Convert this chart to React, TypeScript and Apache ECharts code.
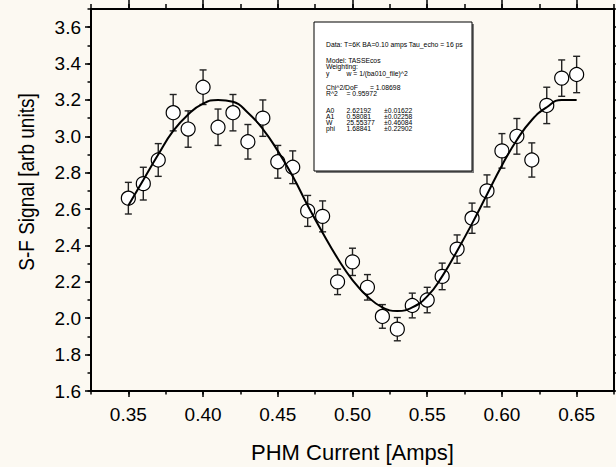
import React, { useEffect, useRef } from 'react';
import * as echarts from 'echarts';

// ---- data ----
const currents = [0.35, 0.36, 0.37, 0.38, 0.39, 0.40, 0.41, 0.42, 0.43, 0.44, 0.45, 0.46, 0.47, 0.48, 0.49, 0.50,
  0.51, 0.52, 0.53, 0.54, 0.55, 0.56, 0.57, 0.58, 0.59, 0.60, 0.61, 0.62, 0.63, 0.64, 0.65];
const signal = [2.66, 2.74, 2.87, 3.13, 3.04, 3.27, 3.05, 3.13, 2.97, 3.10, 2.86, 2.83, 2.59, 2.56, 2.20, 2.31,
  2.17, 2.01, 1.94, 2.07, 2.10, 2.23, 2.38, 2.55, 2.70, 2.92, 3.00, 2.87, 3.17, 3.32, 3.34];
const signalErr = [0.087, 0.09, 0.09, 0.10, 0.10, 0.095, 0.10, 0.10, 0.095, 0.10, 0.09, 0.09, 0.085, 0.085, 0.07, 0.075,
  0.07, 0.065, 0.064, 0.068, 0.07, 0.073, 0.078, 0.083, 0.088, 0.095, 0.098, 0.094, 0.10, 0.10, 0.10];
const fitCurrents = currents;
const fitSignal = [2.62, 2.76, 2.90, 3.03, 3.12, 3.18, 3.20, 3.19, 3.13, 3.04, 2.92, 2.78, 2.62, 2.47, 2.33, 2.21,
  2.12, 2.06, 2.04, 2.06, 2.12, 2.23, 2.37, 2.52, 2.68, 2.84, 2.98, 3.09, 3.16, 3.20, 3.20];

const xMajorTicks = [0.35, 0.40, 0.45, 0.50, 0.55, 0.60, 0.65];
const xMinorTicks = [0.325, 0.35, 0.375, 0.40, 0.425, 0.45, 0.475, 0.50, 0.525, 0.55, 0.575, 0.60, 0.625, 0.65, 0.675];
const yMajorTicks = [1.6, 1.8, 2.0, 2.2, 2.4, 2.6, 2.8, 3.0, 3.2, 3.4, 3.6];
const yMinorTicks = [1.6, 1.7, 1.8, 1.9, 2.0, 2.1, 2.2, 2.3, 2.4, 2.5, 2.6, 2.7, 2.8, 2.9, 3.0, 3.1, 3.2, 3.3, 3.4, 3.5, 3.6, 3.7];

const xTitle = 'PHM Current [Amps]';
const yTitle = 'S-F Signal [arb units]';

const boxHeader = 'Data: T=6K BA=0.10 amps Tau_echo = 16 ps';
const boxModel = 'Model: TASSEcos';
const boxWeighting = 'Weighting:';
const boxWeightVar = 'y';
const boxWeightExpr = 'w = 1/(ba010_file)^2';
const boxChiLabel = 'Chi^2/DoF';
const boxChiValue = '= 1.08698';
const boxR2Label = 'R^2';
const boxR2Value = '= 0.95972';
const paramNames = ['A0', 'A1', 'W', 'phi'];
const paramValues = ['2.62192', '0.58081', '25.55377', '1.68841'];
const paramErrors = ['\u00b10.01622', '\u00b10.02258', '\u00b10.46084', '\u00b10.22902'];

const FONT = "'Liberation Sans', Arial, Helvetica, sans-serif";
const BG = '#fcf9f2';

export default function App() {
  const ref = useRef<HTMLDivElement>(null);

  useEffect(() => {
    document.body.style.margin = '0';
    document.body.style.background = BG;
    if (!ref.current) return;
    const chart = echarts.init(ref.current, undefined, { renderer: 'svg' });

    const xMin = 0.325, xMax = 0.675, yMin = 1.6, yMax = 3.7;
    const tickStyle = { color: '#000', width: 1.5 };
    const lineStyle = { color: '#000', width: 2 };

    const baseX = (extra: any) => ({
      type: 'value', min: xMin, max: xMax, gridIndex: 0,
      splitLine: { show: false },
      axisLine: { show: false, onZero: false, lineStyle },
      axisLabel: { show: false },
      ...extra,
    });
    const baseY = (extra: any) => ({
      type: 'value', min: yMin, max: yMax, gridIndex: 0,
      splitLine: { show: false },
      axisLine: { show: false, onZero: false, lineStyle },
      axisLabel: { show: false },
      ...extra,
    });

    const errData = currents.map((c, i) => [c, signal[i] - signalErr[i], signal[i] + signalErr[i]]);
    const pointData = currents.map((c, i) => [c, signal[i]]);
    const fitData = fitCurrents.map((c, i) => [c, fitSignal[i]]);

    // text box layout
    const bx = 314, by = 22, bw = 158, bh = 149;
    const c0 = 326, c1 = 346.5, c2 = 384, cChi = 370;
    const rows = [44, 60.3, 66.7, 73, 87, 93, 110.7, 116.5, 122.3, 128];
    const txt = (text: string, x: number, y: number) => ({
      type: 'text', x, y, z: 101,
      style: { text, fontSize: 6.8, fontFamily: FONT, fill: '#000', align: 'left', verticalAlign: 'middle' },
    });
    const boxTexts: any[] = [
      txt(boxHeader, c0, rows[0]),
      txt(boxModel, c0, rows[1]),
      txt(boxWeighting, c0, rows[2]),
      txt(boxWeightVar, c0, rows[3]),
      txt(boxWeightExpr, c1, rows[3]),
      txt(boxChiLabel, c0, rows[4]),
      txt(boxChiValue, cChi, rows[4]),
      txt(boxR2Label, c0, rows[5]),
      txt(boxR2Value, c1, rows[5]),
    ];
    paramNames.forEach((n, i) => {
      boxTexts.push(txt(n, c0, rows[6 + i]));
      boxTexts.push(txt(paramValues[i], c1, rows[6 + i]));
      boxTexts.push(txt(paramErrors[i], c2, rows[6 + i]));
    });

    chart.setOption({
      animation: false,
      backgroundColor: BG,
      grid: {
        left: 91, right: 2, top: 9, bottom: 76, containLabel: false, outerBoundsMode: 'none',
        show: true, borderColor: '#000', borderWidth: 2, backgroundColor: 'transparent',
      },
      xAxis: [
        baseX({
          position: 'bottom',
          axisLine: { show: true, onZero: false, lineStyle },
          axisTick: { show: true, customValues: xMajorTicks, length: 6, lineStyle: tickStyle },
          axisLabel: {
            show: true, customValues: xMajorTicks, formatter: (v: number) => v.toFixed(2),
            fontSize: 19, fontFamily: FONT, color: '#000', margin: 14,
          },
          name: xTitle, nameLocation: 'middle', nameGap: 50,
          nameTextStyle: { fontSize: 22, fontFamily: FONT, color: '#000' },
        }),
        baseX({
          position: 'bottom',
          axisTick: { show: true, customValues: xMinorTicks, length: 3.5, lineStyle: tickStyle },
        }),
        baseX({
          position: 'top',
          axisLine: { show: true, onZero: false, lineStyle },
          axisTick: { show: true, customValues: xMajorTicks, length: 9, lineStyle: tickStyle },
        }),
        baseX({
          position: 'top',
          axisTick: { show: true, customValues: xMinorTicks, length: 5, lineStyle: tickStyle },
        }),
      ],
      yAxis: [
        baseY({
          position: 'left',
          axisLine: { show: true, onZero: false, lineStyle },
          axisTick: { show: true, customValues: yMajorTicks, length: 6, lineStyle: tickStyle },
          axisLabel: {
            show: true, customValues: yMajorTicks, formatter: (v: number) => v.toFixed(1),
            fontSize: 19, fontFamily: FONT, color: '#000', margin: 10,
          },
        }),
        baseY({
          position: 'left',
          axisTick: { show: true, customValues: yMinorTicks, length: 3.5, lineStyle: tickStyle },
        }),
        baseY({
          position: 'right',
          axisLine: { show: true, onZero: false, lineStyle },
          axisTick: { show: true, customValues: yMinorTicks, length: 4, lineStyle: tickStyle },
        }),
      ],
      series: [
        {
          type: 'custom', name: 'err', xAxisIndex: 0, yAxisIndex: 0, z: 1,
          data: errData,
          renderItem: (_p: any, api: any) => {
            const x = api.value(0);
            const lo = api.coord([x, api.value(1)]);
            const hi = api.coord([x, api.value(2)]);
            const hw = 3.5;
            const st = { stroke: '#222', lineWidth: 1.4 };
            return {
              type: 'group',
              children: [
                { type: 'line', shape: { x1: lo[0], y1: lo[1], x2: hi[0], y2: hi[1] }, style: st },
                { type: 'line', shape: { x1: lo[0] - hw, y1: lo[1], x2: lo[0] + hw, y2: lo[1] }, style: st },
                { type: 'line', shape: { x1: hi[0] - hw, y1: hi[1], x2: hi[0] + hw, y2: hi[1] }, style: st },
              ],
            };
          },
        },
        {
          type: 'scatter', xAxisIndex: 0, yAxisIndex: 0, z: 2,
          data: pointData, symbol: 'circle', symbolSize: 14,
          itemStyle: { color: '#fff', borderColor: '#000', borderWidth: 1.2, opacity: 1 },
        },
        {
          type: 'line', xAxisIndex: 0, yAxisIndex: 0, z: 3,
          data: fitData, smooth: true, symbol: 'none',
          lineStyle: { color: '#000', width: 2 },
        },
      ],
      graphic: [
        {
          type: 'text', x: 26, y: 182, rotation: Math.PI / 2, scaleY: 1.15, z: 100,
          style: { text: yTitle, fontSize: 19, fontFamily: FONT, fill: '#000', align: 'center', verticalAlign: 'middle' },
        },
        { type: 'rect', shape: { x: bx + 2, y: by + 2, width: bw, height: bh }, style: { fill: '#7a7a7a' }, z: 99 },
        { type: 'rect', shape: { x: bx, y: by, width: bw, height: bh }, style: { fill: '#fff', stroke: '#000', lineWidth: 1 }, z: 100 },
        ...boxTexts,
      ],
    });

    return () => chart.dispose();
  }, []);

  return <div ref={ref} style={{ width: 616, height: 467, position: 'absolute', left: 0, top: 0, background: BG }} />;
}
